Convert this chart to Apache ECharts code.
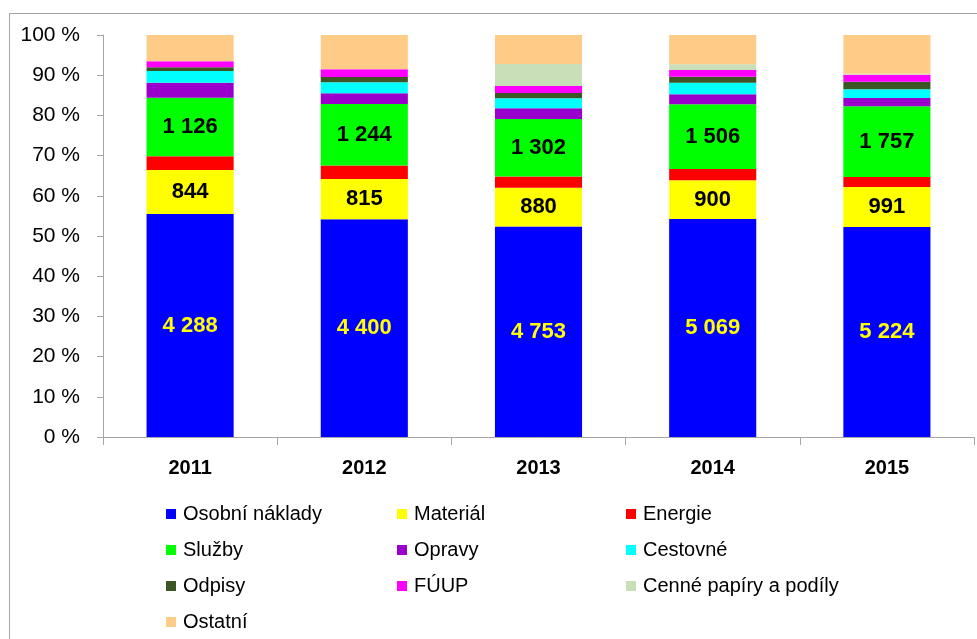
<!DOCTYPE html>
<html>
<head>
<meta charset="utf-8">
<script src="https://cdn.jsdelivr.net/npm/echarts@6/dist/echarts.min.js"></script>
<style>html,body{margin:0;padding:0;background:#fff}#c{width:977px;height:639px}</style>
</head>
<body>
<div id="c"></div>
<script>
// Data (absolute values)
const years = ['2011', '2012', '2013', '2014', '2015'];
const osobniNaklady = [4288, 4400, 4753, 5069, 5224];
const material = [844, 815, 880, 900, 991];
const energie = [263, 269, 249, 263, 251];
const sluzby = [1126, 1244, 1302, 1506, 1757];
const opravy = [289, 216, 242, 233, 206];
const cestovne = [225, 222, 225, 269, 216];
const odpisy = [71, 107, 120, 140, 189];
const fuup = [115, 155, 158, 155, 175];
const cennePapiry = [0, 0, 497, 133, 25];
const ostatni = [506, 694, 655, 680, 961];
const yTicks = [0, 10, 20, 30, 40, 50, 60, 70, 80, 90, 100];

const seriesDefs = [
  {name: 'Osobní náklady', data: osobniNaklady, color: '#0000ff', label: '#ffff00'},
  {name: 'Materiál', data: material, color: '#ffff00', label: '#000000'},
  {name: 'Energie', data: energie, color: '#ff0000'},
  {name: 'Služby', data: sluzby, color: '#00ff00', label: '#000000'},
  {name: 'Opravy', data: opravy, color: '#9900cc'},
  {name: 'Cestovné', data: cestovne, color: '#00ffff'},
  {name: 'Odpisy', data: odpisy, color: '#3b5524'},
  {name: 'FÚUP', data: fuup, color: '#ff00ff'},
  {name: 'Cenné papíry a podíly', data: cennePapiry, color: '#c8dfb8'},
  {name: 'Ostatní', data: ostatni, color: '#ffcc88'}
];

const totals = years.map((_, i) => seriesDefs.reduce((s, d) => s + d.data[i], 0));
const fmt = v => String(v).replace(/\B(?=(\d{3})+(?!\d))/g, ' ');
const narrow = "'Liberation Sans Narrow', 'Arial Narrow', 'Liberation Sans', sans-serif";
const regular = "'Liberation Sans', Arial, sans-serif";

const series = seriesDefs.map(d => ({
  name: d.name,
  type: 'bar',
  stack: 'all',
  barWidth: '50%',
  itemStyle: {color: d.color},
  label: d.label ? {
    show: true,
    position: 'inside',
    color: d.label,
    fontFamily: narrow,
    fontWeight: 'bold',
    fontSize: 22,
    formatter: p => fmt(d.data[p.dataIndex])
  } : {show: false},
  emphasis: {disabled: true},
  data: d.data.map((v, i) => v / totals[i] * 100)
}));

const legendText = {fontFamily: regular, fontSize: 20, color: '#000', padding: [0, 0, 0, 2]};
function col(names, left) {
  return {
    data: names, orient: 'vertical', left: left, top: 499,
    itemWidth: 10, itemHeight: 10, itemGap: 16, icon: 'rect',
    textStyle: Object.assign({lineHeight: 20, height: 20}, legendText),
    selectedMode: false
  };
}

const chart = echarts.init(document.getElementById('c'));
chart.setOption({
  animation: false,
  backgroundColor: '#fff',
  grid: {left: 103, right: 3, top: 35, bottom: 202, containLabel: false},
  xAxis: {
    type: 'category',
    data: years,
    axisLine: {lineStyle: {color: '#a6a6a6', width: 1}},
    axisTick: {show: true, length: 8, lineStyle: {color: '#a6a6a6'}},
    axisLabel: {fontFamily: narrow, fontWeight: 'bold', fontSize: 20, color: '#000', margin: 21}
  },
  yAxis: {
    type: 'value', min: 0, max: 100, interval: 10,
    axisLine: {show: true, lineStyle: {color: '#a6a6a6'}},
    axisTick: {show: true, inside: false, length: 6, lineStyle: {color: '#a6a6a6'}},
    splitLine: {show: false},
    axisLabel: {fontFamily: regular, fontSize: 21, color: '#000', margin: 23,
      formatter: v => yTicks.includes(v) ? v + ' %' : ''}
  },
  legend: [
    col(['Osobní náklady', 'Služby', 'Odpisy', 'Ostatní'], 161),
    col(['Materiál', 'Opravy', 'FÚUP'], 392),
    col(['Energie', 'Cestovné', 'Cenné papíry a podíly'], 621)
  ],
  graphic: [
    {type: 'line', shape: {x1: 9.5, y1: 13, x2: 9.5, y2: 639}, style: {stroke: '#a6a6a6', lineWidth: 1}},
    {type: 'line', shape: {x1: 9, y1: 13.5, x2: 977, y2: 13.5}, style: {stroke: '#a6a6a6', lineWidth: 1}}
  ],
  series: series
});
</script>
</body>
</html>
